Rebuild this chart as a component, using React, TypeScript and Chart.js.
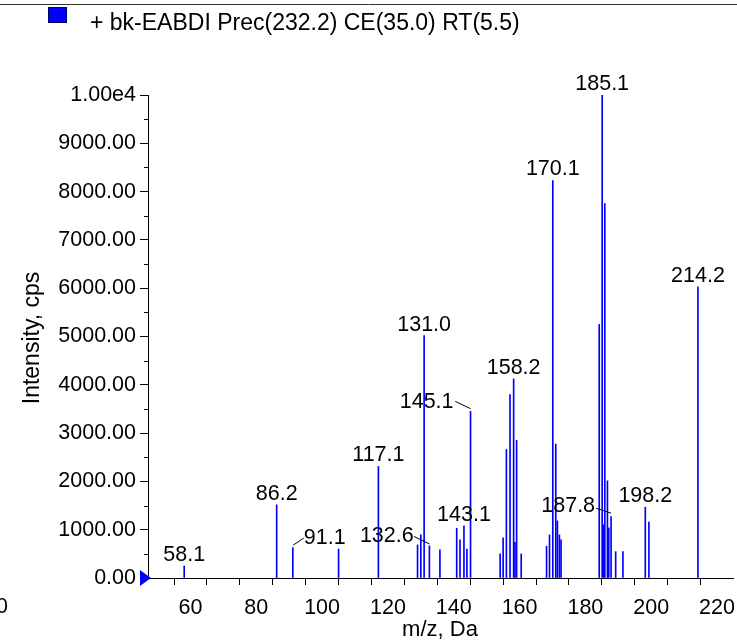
import React, { useEffect, useRef } from 'react';
import { Chart, registerables } from 'chart.js';

Chart.register(...registerables);

// m/z values of each peak (Da)
const mzValues = [
  58.1, 86.2, 91.1, 105.0, 117.1, 129.0, 130.0, 131.0, 132.6, 135.8,
  140.9, 141.9, 143.1, 144.0, 145.1, 154.1, 155.0, 156.0, 157.1, 158.2,
  158.6, 159.1, 160.5, 168.2, 169.1, 170.1, 171.0, 171.5, 172.1, 172.6,
  184.2, 185.1, 185.5, 185.9, 186.7, 187.1, 187.8, 189.2, 191.4, 198.2,
  199.3, 214.2,
];

// intensity of each peak (cps)
const intensities = [
  249, 1515, 630, 600, 2310, 685, 892, 5020, 664, 581,
  1031, 788, 1080, 598, 3450, 498, 833, 2660, 3797, 4122,
  740, 2850, 498, 657, 892, 8230, 2773, 1183, 892, 788,
  5250, 10000, 1100, 7750, 2012, 1037, 1272, 546, 546, 1467,
  1156, 6030,
];

// annotated peaks
const peakLabels = [
  '58.1', '86.2', '91.1', '117.1', '131.0', '132.6', '143.1', '145.1',
  '158.2', '170.1', '185.1', '187.8', '198.2', '214.2',
];

const yTickValues = [0, 1000, 2000, 3000, 4000, 5000, 6000, 7000, 8000, 9000, 10000];
const xTickLabels = [60, 80, 100, 120, 140, 160, 180, 200, 220];

const TITLE = '+ bk-EABDI Prec(232.2) CE(35.0) RT(5.5)';
const Y_TITLE = 'Intensity, cps';
const X_TITLE = 'm/z, Da';

const FONT = '"Liberation Sans", Arial, sans-serif';

// label placement (layout only)
type LabelLayout = { dx: number; dy: number; align: CanvasTextAlign; leader?: number[] };
const labelLayout: Record<string, LabelLayout> = {
  '91.1': { dx: 11, dy: -4, align: 'left', leader: [0.5, -2.5, 11, -9.5] },
  '132.6': { dx: -15.7, dy: -4.3, align: 'right', leader: [-15.5, -9.5, 0, -2] },
  '145.1': { dx: -17, dy: -3.4, align: 'right', leader: [-15.3, -10, 0, -2.7] },
  '187.8': { dx: -16, dy: -5, align: 'right', leader: [-15, -8.4, 0, -3.4] },
};
const defaultLayout: LabelLayout = { dx: 0, dy: -5, align: 'center' };

const decorPlugin = {
  id: 'decor',
  afterDraw(chart: any) {
    const ctx = chart.ctx as CanvasRenderingContext2D;
    const xs = chart.scales.x;
    const ys = chart.scales.y;
    ctx.save();

    // top rule
    ctx.strokeStyle = '#333';
    ctx.lineWidth = 1;
    ctx.beginPath();
    ctx.moveTo(0, 4.5);
    ctx.lineTo(737, 4.5);
    ctx.stroke();

    // legend swatch + title
    ctx.fillStyle = '#0000ff';
    ctx.fillRect(48, 7, 19, 16);
    ctx.strokeStyle = '#000066';
    ctx.strokeRect(48.5, 7.5, 18, 15);
    ctx.fillStyle = '#000';
    ctx.font = `23px ${FONT}`;
    ctx.textAlign = 'left';
    ctx.textBaseline = 'alphabetic';
    ctx.fillText(TITLE, 90, 30);

    // y axis minor ticks
    ctx.strokeStyle = '#000';
    for (let v = 500; v < 10000; v += 1000) {
      const py = Math.round(ys.getPixelForValue(v)) + 0.5;
      ctx.beginPath();
      ctx.moveTo(xs.left - 4, py);
      ctx.lineTo(xs.left, py);
      ctx.stroke();
    }

    // zero marker triangle
    const y0 = ys.getPixelForValue(0);
    ctx.fillStyle = '#0000ff';
    ctx.beginPath();
    ctx.moveTo(xs.left - 8, y0 - 8);
    ctx.lineTo(xs.left + 3, y0);
    ctx.lineTo(xs.left - 8, y0 + 8);
    ctx.closePath();
    ctx.fill();

    // axis titles
    ctx.fillStyle = '#000';
    ctx.font = `23px ${FONT}`;
    ctx.textAlign = 'center';
    ctx.textBaseline = 'middle';
    ctx.save();
    ctx.translate(33, 338);
    ctx.rotate(-Math.PI / 2);
    ctx.fillText(Y_TITLE, 0, 0);
    ctx.restore();
    ctx.font = `22px ${FONT}`;
    ctx.fillText(X_TITLE, 440, 630);
    ctx.font = `21.5px ${FONT}`;
    ctx.fillText('0', 2, 607);

    // peak labels
    ctx.font = `21.5px ${FONT}`;
    ctx.textBaseline = 'alphabetic';
    peakLabels.forEach((lab) => {
      const mz = parseFloat(lab);
      const idx = mzValues.indexOf(mz);
      if (idx < 0) return;
      const px = xs.getPixelForValue(mz);
      const py = ys.getPixelForValue(intensities[idx]);
      const lay = labelLayout[lab] || defaultLayout;
      ctx.textAlign = lay.align;
      ctx.fillStyle = '#000';
      ctx.fillText(lab, px + lay.dx, py + lay.dy);
      if (lay.leader) {
        const [x1, y1, x2, y2] = lay.leader;
        ctx.strokeStyle = '#000';
        ctx.lineWidth = 1;
        ctx.beginPath();
        ctx.moveTo(px + x1, py + y1);
        ctx.lineTo(px + x2, py + y2);
        ctx.stroke();
      }
    });
    ctx.restore();
  },
};

export default function App() {
  const ref = useRef<HTMLCanvasElement>(null);
  useEffect(() => {
    if (!ref.current) return;
    const chart = new Chart(ref.current, {
      type: 'bar',
      data: {
        datasets: [
          {
            data: mzValues.map((m, i) => ({ x: m, y: intensities[i] })),
            backgroundColor: '#0000ff',
            borderWidth: 0,
            barThickness: 1,
            grouped: false,
          } as any,
        ],
      },
      options: {
        responsive: false,
        animation: false,
        events: [],
        layout: { padding: { top: 95, right: 4, left: 0, bottom: 0 } },
        plugins: { legend: { display: false }, tooltip: { enabled: false }, title: { display: false } },
        scales: {
          x: {
            type: 'linear',
            min: 47.1,
            max: 224.85,
            offset: false,
            grid: {
              display: true,
              drawOnChartArea: false,
              drawTicks: true,
              tickLength: 7,
              color: '#000',
              tickColor: '#000',
            },
            border: { display: true, color: '#000', width: 1 },
            ticks: {
              stepSize: 10,
              includeBounds: false,
              autoSkip: false,
              maxRotation: 0,
              minRotation: 0,
              padding: 10,
              color: '#000',
              font: { family: FONT, size: 21.5 },
              callback: (v: any) => (xTickLabels.includes(Math.round(Number(v))) ? String(Math.round(Number(v))) : ''),
            },
            afterFit: (s: any) => {
              s.height = 63;
              s.paddingLeft = 0;
              s.paddingRight = 0;
            },
          } as any,
          y: {
            type: 'linear',
            min: 0,
            max: 10000,
            grid: {
              display: true,
              drawOnChartArea: false,
              drawTicks: true,
              tickLength: 8,
              color: '#000',
              tickColor: '#000',
            },
            border: { display: true, color: '#000', width: 1 },
            ticks: {
              stepSize: 1000,
              autoSkip: false,
              padding: 4,
              color: '#000',
              font: { family: FONT, size: 21.5 },
              callback: (v: any) => {
                const n = Math.round(Number(v));
                if (!yTickValues.includes(n)) return '';
                return n === 10000 ? '1.00e4' : n.toFixed(2);
              },
            },
            afterFit: (s: any) => {
              s.width = 148;
              s.paddingTop = 0;
              s.paddingBottom = 0;
            },
          } as any,
        },
      },
      plugins: [decorPlugin],
    });
    return () => chart.destroy();
  }, []);
  return (
    <div style={{ position: 'fixed', left: 0, top: 0, width: 737, height: 641, background: '#fff' }}>
      <canvas ref={ref} width={737} height={641} style={{ display: 'block', width: 737, height: 641 }} />
    </div>
  );
}
